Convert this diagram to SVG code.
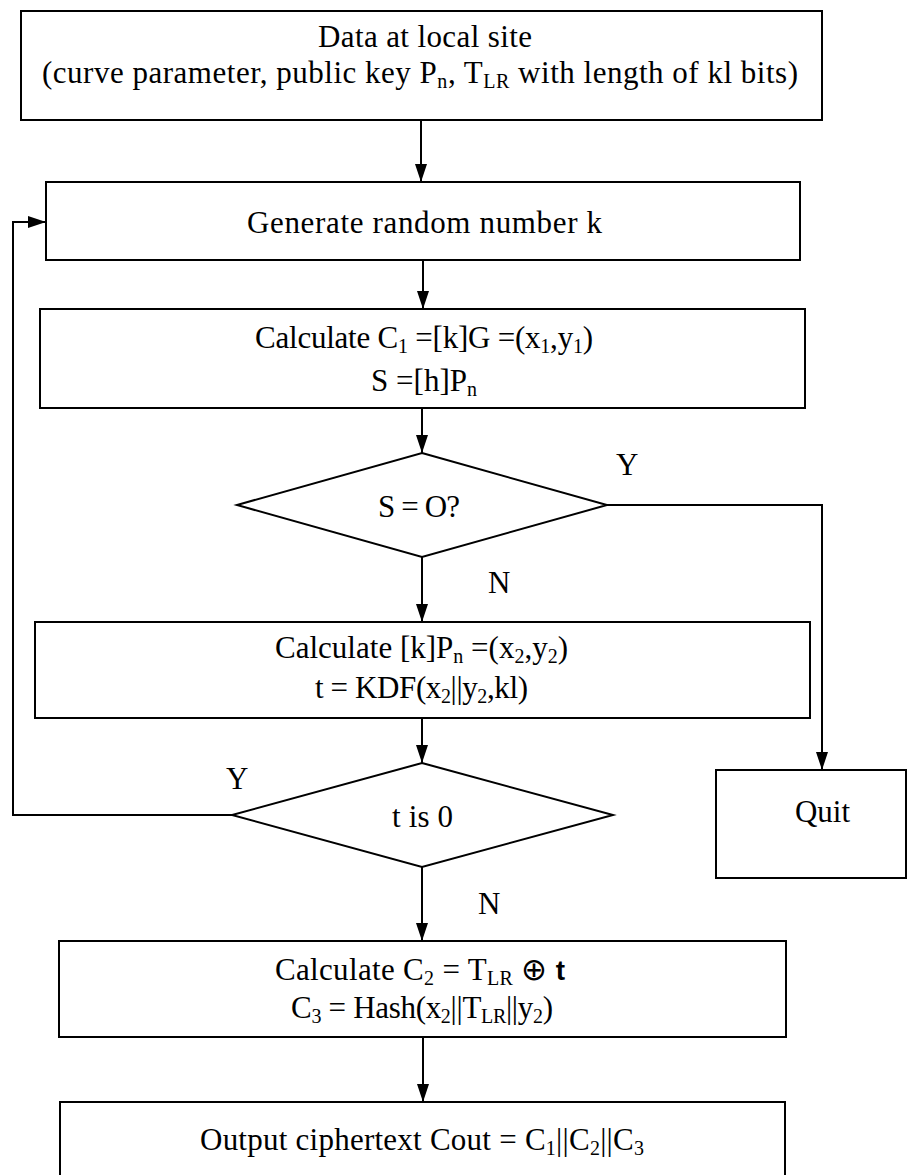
<svg xmlns="http://www.w3.org/2000/svg" width="921" height="1175" viewBox="0 0 921 1175">
<defs>
<marker id="ah" markerWidth="18" markerHeight="12" refX="18" refY="6" orient="auto" markerUnits="userSpaceOnUse" viewBox="0 0 18 12">
<path d="M0,0 L18,6 L0,12 Z" fill="#000"/>
</marker>
<style>
.box{fill:#fff;stroke:#000;stroke-width:2}
.ln{fill:none;stroke:#000;stroke-width:2}
text{font-family:"Liberation Serif","Times New Roman",serif;font-size:31px;fill:#000}
.sub{font-size:20px}
</style>
</defs>
<rect width="921" height="1175" fill="#fff"/>
<g id="connectors">
<path class="ln" d="M421,120 V182" marker-end="url(#ah)"/>
<path class="ln" d="M423,260 V309" marker-end="url(#ah)"/>
<path class="ln" d="M422,408 V453" marker-end="url(#ah)"/>
<path class="ln" d="M422,557 V622" marker-end="url(#ah)"/>
<path class="ln" d="M607,505 H822 V770" marker-end="url(#ah)"/>
<path class="ln" d="M422,718 V763" marker-end="url(#ah)"/>
<path class="ln" d="M232,815 H13 V222 H46" marker-end="url(#ah)"/>
<path class="ln" d="M422,867 V941" marker-end="url(#ah)"/>
<path class="ln" d="M423,1037 V1102" marker-end="url(#ah)"/>
<text x="616" y="475">Y</text>
<text x="488" y="593">N</text>
<text x="226" y="789">Y</text>
<text x="478" y="914">N</text>
</g>
<g id="n1">
<rect class="box" x="21" y="11" width="801" height="109"/>
<text x="318" y="47" textLength="214" lengthAdjust="spacing">Data at local site</text>
<text x="42" y="83" textLength="756" lengthAdjust="spacing">(curve parameter, public key P<tspan class="sub" dy="5">n</tspan><tspan dy="-5">, T</tspan><tspan class="sub" dy="5">LR</tspan><tspan dy="-5"> with length of kl bits)</tspan></text>
</g>
<g id="n2">
<rect class="box" x="46" y="182" width="754" height="78"/>
<text x="247" y="233" textLength="355" lengthAdjust="spacing">Generate random number k</text>
</g>
<g id="n3">
<rect class="box" x="40" y="309" width="765" height="99"/>
<text x="255" y="348" textLength="338" lengthAdjust="spacing">Calculate C<tspan class="sub" dy="5">1</tspan><tspan dy="-5"> =[k]G =(x</tspan><tspan class="sub" dy="5">1</tspan><tspan dy="-5">,y</tspan><tspan class="sub" dy="5">1</tspan><tspan dy="-5">)</tspan></text>
<text x="371" y="391" textLength="106" lengthAdjust="spacing">S =[h]P<tspan class="sub" dy="5">n</tspan></text>
</g>
<g id="n4">
<polygon class="box" points="422,453 607,505 422,557 237,505"/>
<text x="378" y="517" textLength="82" lengthAdjust="spacing">S = O?</text>
</g>
<g id="n5">
<rect class="box" x="35" y="622" width="775" height="96"/>
<text x="275" y="658" textLength="293" lengthAdjust="spacing">Calculate [k]P<tspan class="sub" dy="5">n</tspan><tspan dy="-5"> =(x</tspan><tspan class="sub" dy="5">2</tspan><tspan dy="-5">,y</tspan><tspan class="sub" dy="5">2</tspan><tspan dy="-5">)</tspan></text>
<text x="315" y="698" textLength="213" lengthAdjust="spacing">t = KDF(x<tspan class="sub" dy="5">2</tspan><tspan dy="-5">||y</tspan><tspan class="sub" dy="5">2</tspan><tspan dy="-5">,kl)</tspan></text>
</g>
<g id="n6">
<polygon class="box" points="422,763 613,815 422,867 232,815"/>
<text x="392" y="827" textLength="61" lengthAdjust="spacing">t is 0</text>
</g>
<g id="n7">
<rect class="box" x="716" y="770" width="190" height="108"/>
<text x="795" y="822" textLength="55" lengthAdjust="spacing">Quit</text>
</g>
<g id="n8">
<rect class="box" x="59" y="941" width="727" height="96"/>
<text x="275" y="980" textLength="290" lengthAdjust="spacing">Calculate C<tspan class="sub" dy="5">2</tspan><tspan dy="-5"> = T</tspan><tspan class="sub" dy="5">LR</tspan><tspan dy="-5"> ⊕ </tspan><tspan font-family="Liberation Sans,Arial,sans-serif" font-weight="bold" font-size="28">t</tspan></text>
<text x="291" y="1018" textLength="262" lengthAdjust="spacing">C<tspan class="sub" dy="5">3</tspan><tspan dy="-5"> = Hash(x</tspan><tspan class="sub" dy="5">2</tspan><tspan dy="-5">||T</tspan><tspan class="sub" dy="5">LR</tspan><tspan dy="-5">||y</tspan><tspan class="sub" dy="5">2</tspan><tspan dy="-5">)</tspan></text>
</g>
<g id="n9">
<rect class="box" x="60" y="1102" width="725" height="90"/>
<text x="200" y="1150" textLength="444" lengthAdjust="spacing">Output ciphertext Cout = C<tspan class="sub" dy="5">1</tspan><tspan dy="-5">||C</tspan><tspan class="sub" dy="5">2</tspan><tspan dy="-5">||C</tspan><tspan class="sub" dy="5">3</tspan></text>
</g>
</svg>
